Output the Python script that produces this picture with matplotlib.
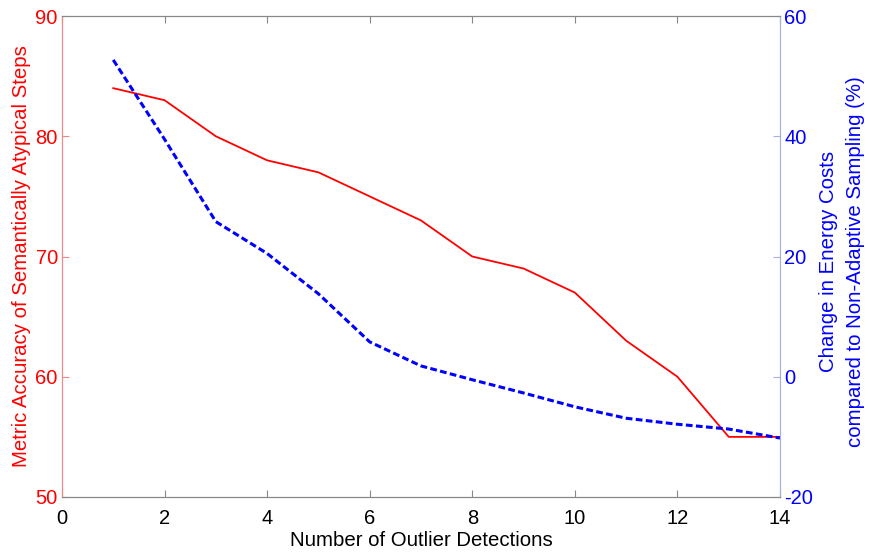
import matplotlib
matplotlib.use("Agg")
import matplotlib.pyplot as plt

detections = [1, 2, 3, 4, 5, 6, 7, 8, 9, 10, 11, 12, 13, 14]
accuracy = [84, 83, 80, 78, 77, 75, 73, 70, 69, 67, 63, 60, 55, 55]
energy_change = [52.7, 39.5, 25.8, 20.5, 13.8, 5.8, 1.8, -0.5, -2.7, -5.0, -6.9, -7.9, -8.7, -10.2]

x_ticks = [0, 2, 4, 6, 8, 10, 12, 14]
left_ticks = [50, 60, 70, 80, 90]
right_ticks = [-20, 0, 20, 40, 60]

plt.rcParams["font.family"] = ["Liberation Sans", "DejaVu Sans"]
plt.rcParams["axes.unicode_minus"] = False

fig = plt.figure(figsize=(8.69, 5.53), dpi=100)
ax = fig.add_axes([0.0713, 0.1013, 0.8263, 0.8697])
ax2 = ax.twinx()

ax.plot(detections, accuracy, color="#ff0000", lw=1.3)
ax2.plot(detections, energy_change, color="#0000ff", lw=2.2, linestyle=(0, (2.2, 1.1)))

ax.set_xlim(0, 14)
ax.set_ylim(50, 90)
ax2.set_ylim(-20, 60)
ax.set_xticks(x_ticks)
ax.set_yticks(left_ticks)
ax2.set_yticks(right_ticks)

ax.tick_params(axis="x", direction="in", top=True, length=5, colors="#888888",
               labelcolor="black", labelsize=14.5, pad=9)
ax.tick_params(axis="y", direction="in", length=5, color="#ee8888",
               labelcolor="#ff0000", labelsize=14.5, pad=3)
ax2.tick_params(axis="y", direction="in", length=5, color="#aab0dd",
                labelcolor="#0000ff", labelsize=14.5, pad=3)

for a in (ax, ax2):
    a.spines["top"].set_color("#888888")
    a.spines["bottom"].set_color("#888888")
    a.spines["left"].set_color("#ee8888")
    a.spines["right"].set_color("#aab0dd")

ax.set_xlabel("Number of Outlier Detections", fontsize=14.7, labelpad=2)
ax.set_ylabel("Metric Accuracy of Semantically Atypical Steps", color="#ff0000",
              fontsize=14.7)
ax.yaxis.set_label_coords(-0.056, 0.5)
ax.yaxis.label.set_va("center")

ax2.set_ylabel("Change in Energy Costs\ncompared to Non-Adaptive Sampling (%)",
               color="#0000ff", fontsize=14.7, rotation=90, linespacing=1.5)
ax2.yaxis.label.set_ha("center")
ax2.yaxis.label.set_va("center")
ax2.yaxis.set_label_coords(1.0864, 0.49)

fig.savefig("out.png", dpi=100)
